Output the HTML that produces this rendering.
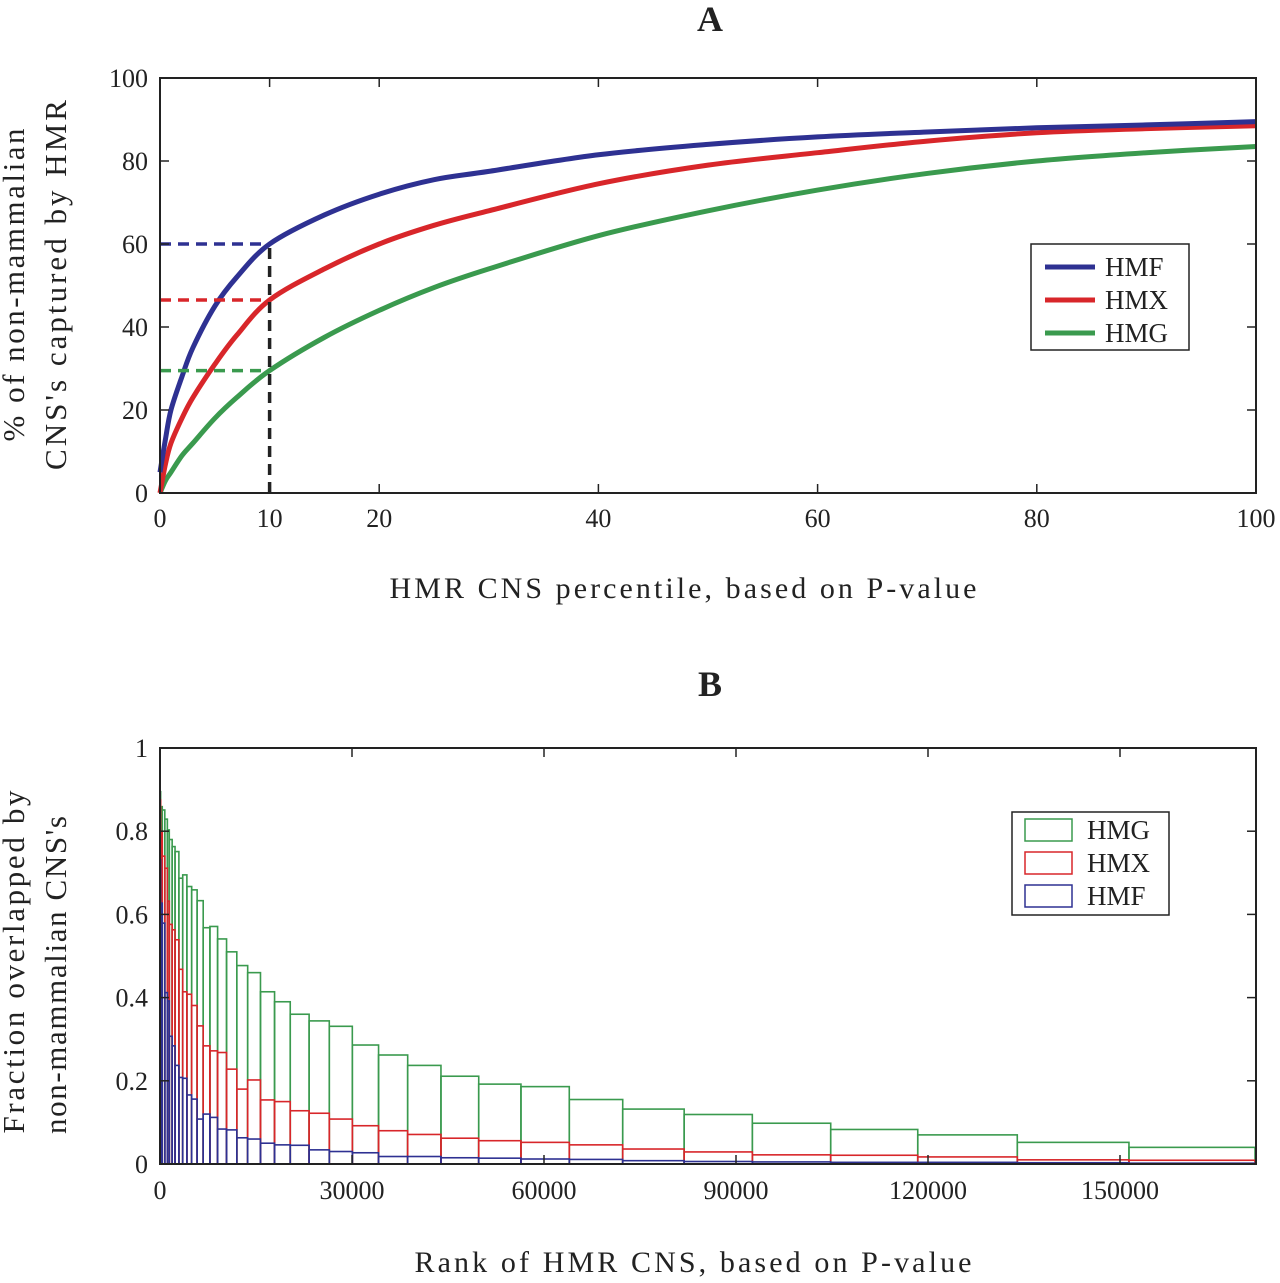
<!DOCTYPE html>
<html><head><meta charset="utf-8"><style>
body{margin:0;background:#fff;}
svg text{font-family:"Liberation Serif",serif;fill:#222;}
</style></head><body>
<svg id="chart" width="1280" height="1278" viewBox="0 0 1280 1278" xmlns="http://www.w3.org/2000/svg">
<text x="710" y="31" font-size="36" font-weight="bold" text-anchor="middle">A</text>
<text x="710" y="696" font-size="36" font-weight="bold" text-anchor="middle">B</text>
<g id="pa"></g><g id="pb"></g>
</svg>
<script>
// Panel A data
const pctX = [0,0.5,1,2,3,5,7,10,15,20,25,30,40,50,60,70,80,90,100];
const hmfA = [5,13,20,28,35,45,52,60,67,72,75.5,77.5,81.5,84,85.8,87,88,88.7,89.5];
const hmxA = [0,7,12,18,23,31,38,46.5,54,60,64.5,68,74.5,79,82,84.8,86.8,87.8,88.5];
const hmgA = [0,3,5,9,12,18,23,29.5,37.5,44,49.5,54,62,68,73,77,80,82,83.5];
const aXTicks = [0,10,20,40,60,80,100];
const aYTicks = [0,20,40,60,80,100];
const cutoffX = 10;
// Panel B data
const binEdges = [0,100,350,750,1150,1450,1900,2350,2950,3550,4200,4950,5800,6750,7800,9000,10400,12000,13700,15700,17900,20350,23300,26450,30050,34150,38700,43900,49800,56400,63950,72300,81900,92550,104800,118400,133950,151400,171100];
const hmgB = [0.895,0.859,0.851,0.829,0.803,0.780,0.763,0.751,0.687,0.695,0.667,0.659,0.633,0.568,0.571,0.541,0.510,0.477,0.460,0.414,0.390,0.360,0.344,0.331,0.286,0.262,0.237,0.211,0.192,0.186,0.155,0.132,0.119,0.098,0.083,0.070,0.052,0.040];
const hmxB = [0.875,0.80,0.74,0.711,0.632,0.576,0.563,0.539,0.468,0.414,0.408,0.381,0.332,0.284,0.272,0.268,0.228,0.180,0.202,0.154,0.150,0.128,0.122,0.108,0.092,0.080,0.071,0.062,0.056,0.052,0.046,0.036,0.029,0.022,0.021,0.017,0.010,0.009];
const hmfB = [0.731,0.627,0.579,0.412,0.392,0.307,0.284,0.237,0.208,0.206,0.166,0.156,0.108,0.120,0.112,0.084,0.082,0.063,0.060,0.050,0.046,0.045,0.034,0.030,0.027,0.018,0.018,0.015,0.014,0.012,0.011,0.008,0.006,0.005,0.004,0.004,0.003,0.002];
const bXTicks = [0,30000,60000,90000,120000,150000];
const bYTicks = [0,0.2,0.4,0.6,0.8,1];
const bYLabels = ["0","0.2","0.4","0.6","0.8","1"];

const NS="http://www.w3.org/2000/svg";
function mk(parent,tag,attrs,txt){const e=document.createElementNS(NS,tag);for(const k in attrs)e.setAttribute(k,attrs[k]);if(txt!==undefined)e.textContent=txt;parent.appendChild(e);return e;}
function smoothPath(pts){
  let d='M'+pts[0][0]+','+pts[0][1];
  for(let i=0;i<pts.length-1;i++){
    const p0=pts[Math.max(0,i-1)],p1=pts[i],p2=pts[i+1],p3=pts[Math.min(pts.length-1,i+2)];
    const c1x=p1[0]+(p2[0]-p0[0])/6,c1y=p1[1]+(p2[1]-p0[1])/6;
    const c2x=p2[0]-(p3[0]-p1[0])/6,c2y=p2[1]-(p3[1]-p1[1])/6;
    d+=' C'+c1x+','+c1y+' '+c2x+','+c2y+' '+p2[0]+','+p2[1];
  }
  return d;
}

// ---------- Panel A ----------
const pa=document.getElementById('pa');
const L=160,R=1256,aT=78,aB=493;
const ax=v=>L+(v-0)/100*(R-L);
const ay=v=>aB-(v/100)*(aB-aT);
function lineA(ys,color,name){
  const p=mk(pa,'path',{d:smoothPath(pctX.map((x,i)=>[ax(x),ay(ys[i])])),fill:'none',stroke:color,'stroke-width':5,'stroke-linejoin':'round'});
  
  
}
lineA(hmgA,'#3a9a4e','hmg-curve');
lineA(hmxA,'#d8262a','hmx-curve');
lineA(hmfA,'#2e3192','hmf-curve');
const ci=pctX.indexOf(cutoffX);
[[hmfA,'#2e3192','hmf-dash'],[hmxA,'#d8262a','hmx-dash'],[hmgA,'#3a9a4e','hmg-dash']].forEach(([s,c,n])=>{
  const d=mk(pa,'line',{x1:ax(0),x2:ax(cutoffX),y1:ay(s[ci]),y2:ay(s[ci]),stroke:c,'stroke-width':3.5,'stroke-dasharray':'11,7'});
  
  
});
const vd=mk(pa,'line',{x1:ax(cutoffX),x2:ax(cutoffX),y1:ay(0),y2:ay(hmfA[ci]),stroke:'#222','stroke-width':3.5,'stroke-dasharray':'11,7'});


const fa=mk(pa,'rect',{x:L,y:aT,width:R-L,height:aB-aT,fill:'none',stroke:'#222','stroke-width':2});


aXTicks.forEach(t=>{
  mk(pa,'line',{x1:ax(t),x2:ax(t),y1:aB,y2:aB-9,stroke:'#222','stroke-width':1.5});
  mk(pa,'line',{x1:ax(t),x2:ax(t),y1:aT,y2:aT+9,stroke:'#222','stroke-width':1.5});
  const tx=mk(pa,'text',{x:ax(t),y:aB+34,'font-size':26,'text-anchor':'middle'},String(t));
  
  
});
aYTicks.forEach(t=>{
  mk(pa,'line',{x1:L,x2:L+9,y1:ay(t),y2:ay(t),stroke:'#222','stroke-width':1.5});
  mk(pa,'line',{x1:R,x2:R-9,y1:ay(t),y2:ay(t),stroke:'#222','stroke-width':1.5});
  const tx=mk(pa,'text',{x:L-12,y:ay(t)+9,'font-size':26,'text-anchor':'end'},String(t));
  
  
});
let t1=mk(pa,'text',{x:683,y:598,'font-size':30,'text-anchor':'middle',textLength:587,lengthAdjust:'spacing'},'HMR CNS percentile, based on P-value');


let t2=mk(pa,'text',{transform:'translate(24,285) rotate(-90)','font-size':31,'text-anchor':'middle',textLength:313,lengthAdjust:'spacing'},'% of non-mammalian');


let t3=mk(pa,'text',{transform:'translate(66,285) rotate(-90)','font-size':31,'text-anchor':'middle',textLength:370,lengthAdjust:'spacing'},"CNS's captured by HMR");


const lgA=mk(pa,'g',{});


mk(lgA,'rect',{x:1031,y:244,width:158,height:106,fill:'#fff',stroke:'#222','stroke-width':1.5});
[['HMF','#2e3192',267],['HMX','#d8262a',300],['HMG','#3a9a4e',333]].forEach(([n,c,y])=>{
  const g=mk(lgA,'g',{});
  
  
  mk(g,'line',{x1:1045,x2:1095,y1:y,y2:y,stroke:c,'stroke-width':5});
  mk(g,'text',{x:1105,y:y+9,'font-size':27},n);
});

// ---------- Panel B ----------
const pb=document.getElementById('pb');
const bT=748,bB=1164,bXMax=171250;
const bx=v=>L+v/bXMax*(R-L);
const by=v=>bB-v*(bB-bT);
function bars(vals,color,name){
  const g=mk(pb,'g',{});
  
  
  vals.forEach((v,i)=>{
    const x0=bx(binEdges[i]),x1=bx(binEdges[i+1]);
    const r=mk(g,'rect',{x:x0,y:by(v),width:Math.max(0.1,x1-x0),height:by(0)-by(v),fill:'none',stroke:color,'stroke-width':1.6});
    
    
  });
}
bars(hmgB,'#3a9a4e','hmg-bars');
bars(hmxB,'#d8262a','hmx-bars');
bars(hmfB,'#2e3192','hmf-bars');
const fb=mk(pb,'rect',{x:L,y:bT,width:R-L,height:bB-bT,fill:'none',stroke:'#222','stroke-width':2});


bXTicks.forEach(t=>{
  mk(pb,'line',{x1:bx(t),x2:bx(t),y1:bB,y2:bB-9,stroke:'#222','stroke-width':1.5});
  mk(pb,'line',{x1:bx(t),x2:bx(t),y1:bT,y2:bT+9,stroke:'#222','stroke-width':1.5});
  const tx=mk(pb,'text',{x:bx(t),y:bB+35,'font-size':26,'text-anchor':'middle'},String(t));
  
  
});
bYTicks.forEach((t,i)=>{
  mk(pb,'line',{x1:L,x2:L+9,y1:by(t),y2:by(t),stroke:'#222','stroke-width':1.5});
  mk(pb,'line',{x1:R,x2:R-9,y1:by(t),y2:by(t),stroke:'#222','stroke-width':1.5});
  const tx=mk(pb,'text',{x:L-12,y:by(t)+9,'font-size':26,'text-anchor':'end'},bYLabels[i]);
  
  
});
let t4=mk(pb,'text',{x:693,y:1272,'font-size':30,'text-anchor':'middle',textLength:557,lengthAdjust:'spacing'},'Rank of HMR CNS, based on P-value');


let t5=mk(pb,'text',{transform:'translate(24,962) rotate(-90)','font-size':31,'text-anchor':'middle',textLength:343,lengthAdjust:'spacing'},'Fraction overlapped by');


let t6=mk(pb,'text',{transform:'translate(66,975) rotate(-90)','font-size':31,'text-anchor':'middle',textLength:318,lengthAdjust:'spacing'},"non-mammalian CNS's");


const lgB=mk(pb,'g',{});


mk(lgB,'rect',{x:1012,y:812,width:157,height:103,fill:'#fff',stroke:'#222','stroke-width':1.5});
[['HMG','#3a9a4e',830],['HMX','#d8262a',863],['HMF','#2e3192',896]].forEach(([n,c,y])=>{
  const g=mk(lgB,'g',{});
  
  
  mk(g,'rect',{x:1025,y:y-11,width:47,height:22,fill:'none',stroke:c,'stroke-width':1.5});
  mk(g,'text',{x:1087,y:y+9,'font-size':27},n);
});
</script>
</body></html>
